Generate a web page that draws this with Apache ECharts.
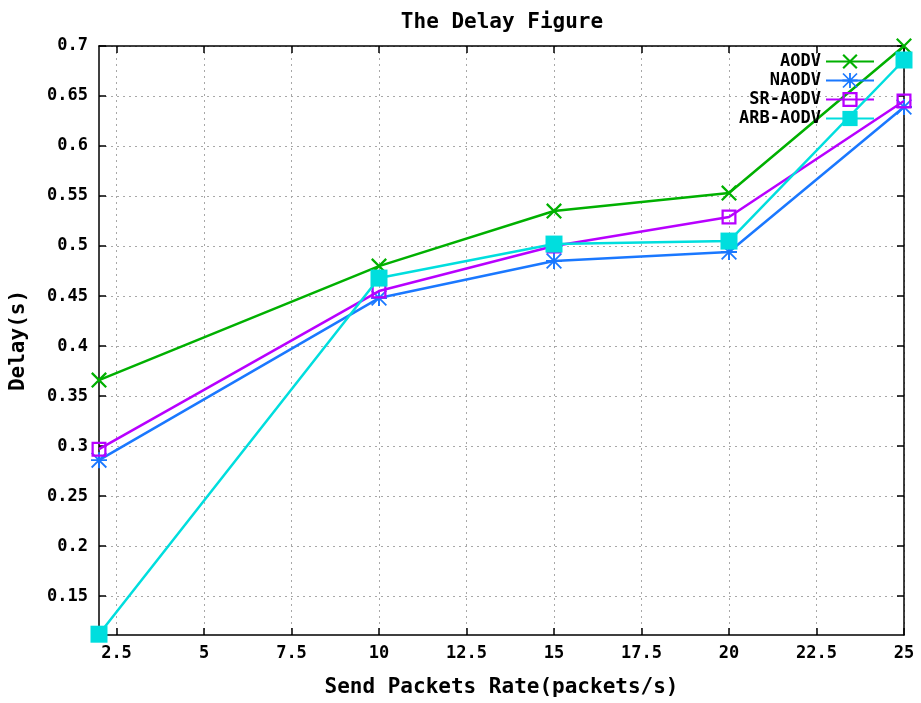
<!DOCTYPE html>
<html>
<head>
<meta charset="utf-8">
<script src="https://cdn.jsdelivr.net/npm/echarts@6/dist/echarts.min.js"></script>
<style>html,body{margin:0;padding:0;background:#fff}#c{width:921px;height:703px}</style>
</head>
<body>
<div id="c"></div>
<script>
var xValues = [2, 10, 15, 20, 25];
var seriesNames = ['AODV', 'NAODV', 'SR-AODV', 'ARB-AODV'];
var aodv = [0.366, 0.480, 0.535, 0.553, 0.700];
var naodv = [0.286, 0.448, 0.485, 0.494, 0.639];
var srAodv = [0.297, 0.455, 0.500, 0.529, 0.645];
var arbAodv = [0.112, 0.468, 0.502, 0.505, 0.686];
var xTicks = [2.5, 5, 7.5, 10, 12.5, 15, 17.5, 20, 22.5, 25];
var yTicks = [0.15, 0.2, 0.25, 0.3, 0.35, 0.4, 0.45, 0.5, 0.55, 0.6, 0.65, 0.7];

var FONT = 'DejaVu Sans Mono';
var crossPath = 'path://M0,1 L1,0 L10,9 L9,10 Z M9,0 L10,1 L1,10 L0,9 Z';
var starPath = 'path://M0,8.8 L20,8.8 L20,11.2 L0,11.2 Z M8.8,0 L11.2,0 L11.2,20 L8.8,20 Z M1.6,0 L20,18.4 L18.4,20 L0,1.6 Z M18.4,0 L20,1.6 L1.6,20 L0,18.4 Z';
var hollowSquare = 'path://M0,0 L10,0 L10,10 L0,10 Z M1.5,1.5 L1.5,8.5 L8.5,8.5 L8.5,1.5 Z';

function pairs(vals) { return xValues.map(function (x, i) { return [x, vals[i]]; }); }

var styles = [
  {color: '#00b000', symbol: crossPath, size: 16},
  {color: '#1a78ff', symbol: starPath, size: 16},
  {color: '#b800ff', symbol: hollowSquare, size: 15},
  {color: '#00dede', symbol: 'rect', size: 17}
];
var dataSets = [aodv, naodv, srAodv, arbAodv];

var series = seriesNames.map(function (name, i) {
  return {
    name: name, type: 'line', data: pairs(dataSets[i]),
    symbol: styles[i].symbol, symbolSize: styles[i].size, showSymbol: true,
    clip: false, animation: false,
    lineStyle: {color: styles[i].color, width: 2.5},
    itemStyle: {color: styles[i].color},
    z: 2 + i
  };
});

var tickLabel = {fontFamily: FONT, fontWeight: 'bold', fontSize: 17, color: '#000'};
var axisLineStyle = {lineStyle: {color: '#000', width: 1.5}};
var splitStyle = {show: true, lineStyle: {color: '#a8a8a8', width: 1, type: [2, 4]}};

var chart = echarts.init(document.getElementById('c'));
chart.setOption({
  backgroundColor: '#fff',
  animation: false,
  title: {
    text: 'The Delay Figure', left: 497, top: 7, textAlign: 'center',
    textStyle: {fontFamily: FONT, fontWeight: 'bold', fontSize: 21, color: '#000'}
  },
  legend: {
    orient: 'vertical', right: 41, top: 47, align: 'right',
    itemWidth: 48, itemHeight: 19, itemGap: 0,
    textStyle: {fontFamily: FONT, fontWeight: 'bold', fontSize: 17, color: '#000', lineHeight: 19},
    data: seriesNames
  },
  grid: {left: 99, right: 17, top: 46, bottom: 66},
  xAxis: [{
    type: 'value', min: 2, max: 25, position: 'bottom',
    name: 'Send Packets Rate(packets/s)', nameLocation: 'middle', nameGap: 42,
    nameTextStyle: {fontFamily: FONT, fontWeight: 'bold', fontSize: 21, color: '#000'},
    axisLine: axisLineStyle,
    axisTick: {show: true, inside: true, length: 7, customValues: xTicks, lineStyle: {color: '#000', width: 1.5}},
    axisLabel: Object.assign({customValues: xTicks, margin: 10}, tickLabel),
    splitLine: splitStyle
  }, {
    type: 'value', min: 2, max: 25, position: 'top',
    axisLine: axisLineStyle,
    axisTick: {show: true, inside: true, length: 7, customValues: xTicks, lineStyle: {color: '#000', width: 1.5}},
    axisLabel: {show: false}, splitLine: {show: false}
  }],
  yAxis: [{
    type: 'value', min: 0.1112, max: 0.7, position: 'left',
    name: 'Delay(s)', nameLocation: 'middle', nameGap: 70, nameRotate: 90,
    nameTextStyle: {fontFamily: FONT, fontWeight: 'bold', fontSize: 21, color: '#000'},
    axisLine: {show: true, lineStyle: {color: '#000', width: 1.5}},
    axisTick: {show: true, inside: true, length: 7, customValues: yTicks, lineStyle: {color: '#000', width: 1.5}},
    axisLabel: Object.assign({customValues: yTicks, margin: 11}, tickLabel),
    splitLine: splitStyle
  }, {
    type: 'value', min: 0.1112, max: 0.7, position: 'right',
    axisLine: {show: true, lineStyle: {color: '#000', width: 1.5}},
    axisTick: {show: true, inside: true, length: 7, customValues: yTicks, lineStyle: {color: '#000', width: 1.5}},
    axisLabel: {show: false}, splitLine: {show: false}
  }],
  series: series
});
</script>
</body>
</html>
